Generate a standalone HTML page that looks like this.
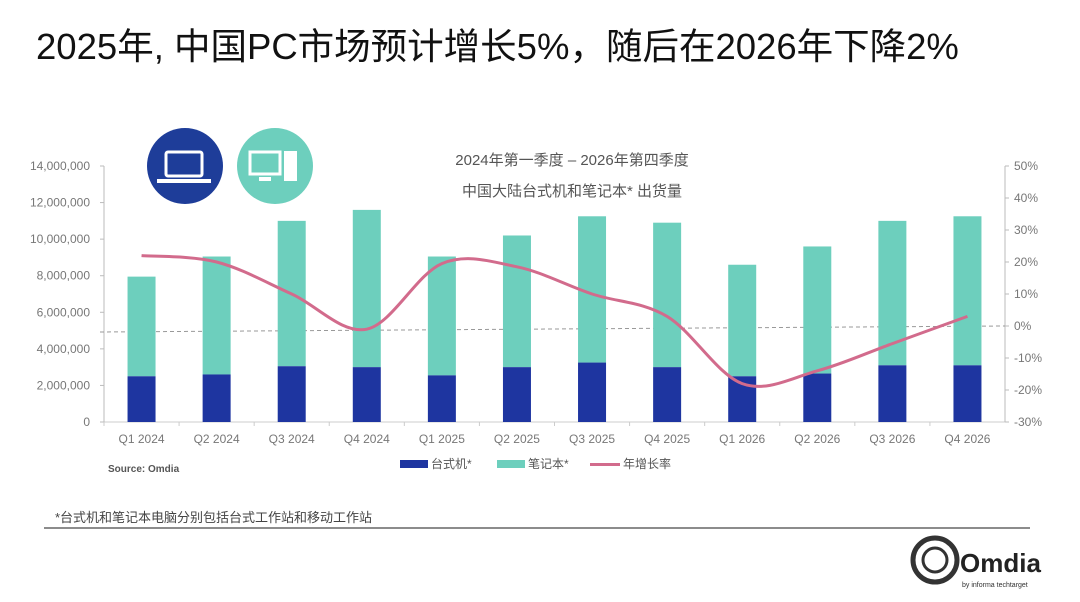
<!DOCTYPE html>
<html><head><meta charset="utf-8">
<style>
body{margin:0;width:1080px;height:597px;background:#fff;overflow:hidden;font-family:"Liberation Sans","Noto Sans CJK SC",sans-serif;}
svg text{font-family:"Liberation Sans","Noto Sans CJK SC",sans-serif;}
</style></head>
<body>
<svg id="chart" width="1080" height="597">
<text x="36" y="59" font-size="36.5" fill="#111">2025年, 中国PC市场预计增长5%，随后在2026年下降2%</text>
<g>
<circle cx="185" cy="166" r="38" fill="#1e3d99"/>
<rect x="166" y="152" width="36" height="24" rx="2" fill="none" stroke="#fff" stroke-width="3"/>
<rect x="157" y="179" width="54" height="4" fill="#fff"/>
</g>
<g>
<circle cx="275" cy="166" r="38" fill="#6dcfbd"/>
<rect x="250" y="152" width="30" height="22" fill="none" stroke="#fff" stroke-width="3"/>
<rect x="259" y="177" width="12" height="4" fill="#fff"/>
<rect x="284" y="151" width="13" height="30" fill="#fff"/>
</g>
<text x="572" y="165" font-size="15" fill="#555" text-anchor="middle">2024年第一季度 – 2026年第四季度</text>
<text x="572" y="196" font-size="15" fill="#555" text-anchor="middle">中国大陆台式机和笔记本* 出货量</text>
<g id="plot"></g>
<text x="108" y="472" font-size="10" fill="#555" font-weight="bold">Source: Omdia</text>
<g>
<rect x="400" y="460" width="28" height="8" fill="#1e35a0"/>
<text x="431" y="468" font-size="12" fill="#555">台式机*</text>
<rect x="497" y="460" width="28" height="8" fill="#6dcfbd"/>
<text x="528" y="468" font-size="12" fill="#555">笔记本*</text>
<rect x="590" y="463" width="30" height="3" fill="#d26b8c"/>
<text x="623" y="468" font-size="12" fill="#555">年增长率</text>
</g>
<text x="55" y="522" font-size="13" fill="#444">*台式机和笔记本电脑分别包括台式工作站和移动工作站</text>
<line x1="44" y1="528" x2="1030" y2="528" stroke="#666" stroke-width="1.5"/>
<g>
<circle cx="935" cy="560" r="22" fill="none" stroke="#333" stroke-width="5"/>
<circle cx="935" cy="560" r="12" fill="none" stroke="#333" stroke-width="3"/>
<text x="960" y="572" font-size="26" font-weight="bold" fill="#222">Omdia</text>
<text x="962" y="587" font-size="7" fill="#333">by informa techtarget</text>
</g>
</svg>
<script>
const categories=["Q1 2024","Q2 2024","Q3 2024","Q4 2024","Q1 2025","Q2 2025","Q3 2025","Q4 2025","Q1 2026","Q2 2026","Q3 2026","Q4 2026"];
const desktop=[2500000,2600000,3050000,3000000,2550000,3000000,3250000,3000000,2500000,2650000,3100000,3100000];
const totals=[7950000,9050000,11000000,11600000,9050000,10200000,11250000,10900000,8600000,9600000,11000000,11250000];
const growth=[22,20,10,-1,19.5,18.5,10,3,-18,-14,-5.5,3];
const leftTicks=[0,2000000,4000000,6000000,8000000,10000000,12000000,14000000];
const rightTicks=[-30,-20,-10,0,10,20,30,40,50];
const NS="http://www.w3.org/2000/svg";
const g=document.getElementById('plot');
const x0=104,x1=1005,yb=422,yt=166;
const yL=v=>yb-(v/14000000)*(yb-yt);
const yR=v=>yb-((v+30)/80)*(yb-yt);
const step=(x1-x0)/categories.length;
const xC=i=>x0+step*(i+0.5);
function el(t,a){const e=document.createElementNS(NS,t);for(const k in a)e.setAttribute(k,a[k]);g.appendChild(e);return e;}
let ax=el('line',{x1:x0,y1:yb,x2:x1,y2:yb,stroke:'#ccc'});


let la=el('line',{x1:x0,y1:yt,x2:x0,y2:yb,stroke:'#bbb'});


let ra=el('line',{x1:x1,y1:yt,x2:x1,y2:yb,stroke:'#bbb'});


leftTicks.forEach(v=>{
 const t=el('text',{x:90,y:yL(v)+4,'font-size':12,fill:'#777','text-anchor':'end'});t.textContent=v.toLocaleString('en-US');
 
 
 el('line',{x1:x0-4,y1:yL(v),x2:x0,y2:yL(v),stroke:'#bbb'});
});
rightTicks.forEach(v=>{
 const t=el('text',{x:1014,y:yR(v)+4,'font-size':12,fill:'#777'});t.textContent=v+'%';
 
 
 el('line',{x1:x1,y1:yR(v),x2:x1+4,y2:yR(v),stroke:'#bbb'});
});
let zl=el('line',{x1:x0-4,y1:yR(0)+6,x2:x1,y2:yR(0),stroke:'#999','stroke-dasharray':'4,3'});


categories.forEach((c,i)=>{
 const cx=xC(i),w=28;
 const lap=el('rect',{x:cx-w/2,y:yL(totals[i]),width:w,height:yL(desktop[i])-yL(totals[i]),fill:'#6dcfbd'});
 
 
 const d=el('rect',{x:cx-w/2,y:yL(desktop[i]),width:w,height:yb-yL(desktop[i]),fill:'#1e35a0'});
 
 
 el('line',{x1:x0+step*i,y1:yb,x2:x0+step*i,y2:yb+4,stroke:'#ccc'});
 const t=el('text',{x:cx,y:443,'font-size':12,fill:'#777','text-anchor':'middle'});t.textContent=c;
 
 
});
const pts=growth.map((v,i)=>[xC(i),yR(v)]);
let d='M'+pts[0][0]+','+pts[0][1];
for(let i=0;i<pts.length-1;i++){
 const p0=pts[Math.max(0,i-1)],p1=pts[i],p2=pts[i+1],p3=pts[Math.min(pts.length-1,i+2)];
 const c1=[p1[0]+(p2[0]-p0[0])/6,p1[1]+(p2[1]-p0[1])/6],c2=[p2[0]-(p3[0]-p1[0])/6,p2[1]-(p3[1]-p1[1])/6];
 d+=` C${c1[0]},${c1[1]} ${c2[0]},${c2[1]} ${p2[0]},${p2[1]}`;
}
const ln=el('path',{d:d,fill:'none',stroke:'#d26b8c','stroke-width':3});


</script>
</body></html>
